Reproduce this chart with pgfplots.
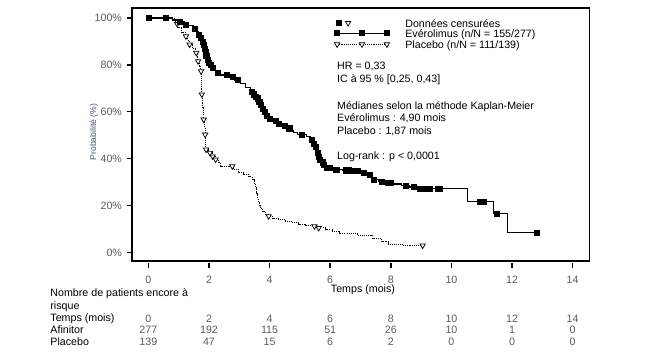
\documentclass[border=0pt]{standalone}
\usepackage{pgfplots}
\pgfplotsset{compat=1.18}
\usepackage{fontspec}
\setmainfont{Liberation Sans}
\definecolor{ylab}{RGB}{75,85,110}
\definecolor{tickgray}{RGB}{90,90,90}
\tikzset{tnum/.style={text=tickgray, inner sep=0pt}}
\begin{document}
\begin{tikzpicture}[font=\fontsize{8}{9.6}\selectfont]
\useasboundingbox (-99pt,-75pt) rectangle (395.25pt,195.75pt);
\begin{axis}[
  scale only axis, width=343pt, height=189.75pt,
  xmin=-0.54, xmax=14.55, ymin=-3.6, ymax=104.3,
  axis line style={line width=1.1pt},
  xtick={0,2,...,14}, ytick={0,20,...,100},
  tick pos=left,
  tick align=outside,
  major tick length=4pt,
  x tick style={line width=1.2pt, black, yshift=-1.3pt},
  y tick style={line width=0.9pt, black},
  xticklabel style={text=tickgray, yshift=-3.7pt},
  yticklabel style={text=tickgray},
  yticklabel={\pgfmathprintnumber{\tick}\%},
  /pgf/number format/assume math mode=true,
  clip=false,
]
% Placebo KM curve
\addplot[const plot, black, line width=0.75pt, dash pattern=on 0.8pt off 0.8pt] coordinates {
(0,100) (0.9,97.5) (0.97,95.8) (1.1,94) (1.24,92.2) (1.3,90.5) (1.35,88.7) (1.45,87)
(1.57,85.2) (1.62,81.6) (1.68,79.5) (1.73,77.3) (1.75,72) (1.76,67.4) (1.79,62) (1.82,56.7)
(1.85,53) (1.87,50.3) (1.89,47) (1.9,43.9) (2.0,42.5) (2.1,41) (2.2,39.7) (2.3,38.2)
(2.39,36.8) (2.8,35.5) (2.99,34) (3.15,33.3) (3.32,32.5) (3.43,31.1) (3.5,29.5) (3.54,27.6)
(3.57,25) (3.59,23.3) (3.62,21.5) (3.67,20) (3.7,19) (3.78,17.5) (3.87,16.2) (3.95,15.5)
(4.1,14.4) (4.3,14) (4.52,13.4) (4.74,12.7) (4.96,11.9) (5.2,11.5) (5.46,11.2) (5.6,10.5)
(5.85,9.8) (6.06,9.1) (6.3,8.0) (6.9,7.3) (7.4,6.0) (7.7,4.6) (7.92,3.6) (8.4,3.0) (9.05,3.0)
};
\addplot[only marks, black, mark=triangle*, mark size=2.3pt, mark options={fill=white, rotate=180, line width=0.55pt}] coordinates {
(0.95,97.5) (1.24,92.2) (1.36,88.7) (1.58,85.2) (1.64,81.6) (1.74,77.3) (1.765,67.4)
(1.825,56.7) (1.875,50.3) (1.905,43.9) (2.03,42.5) (2.12,41) (2.22,39.7) (2.77,36.8)
(3.97,15.5) (5.48,11.2) (5.62,10.5) (9.05,3.0)
};
% Everolimus KM curve
\addplot[const plot, black, line width=0.9pt] coordinates {
(0,100) (0.8,99.2) (1.0,98.3) (1.18,97.3) (1.3,96.8) (1.5,95.5) (1.57,94.4) (1.64,93)
(1.7,91.5) (1.76,90) (1.8,88.5) (1.84,87) (1.87,85.8) (1.9,84) (1.93,82.1) (1.98,81)
(2.04,80) (2.1,78.8) (2.14,77.8) (2.25,76.5) (2.37,75.7) (2.7,75) (2.85,73.5) (3.03,72.2)
(3.2,70.5) (3.36,68.6) (3.45,67.5) (3.52,66.5) (3.58,65.8) (3.63,64.3) (3.69,62.9) (3.74,61.5)
(3.79,60) (3.87,58.5) (3.96,57.2) (4.1,56.2) (4.24,55.1) (4.4,54) (4.57,53) (4.75,52)
(4.8,51.2) (4.92,50.2) (5.23,49.4) (5.35,48.2) (5.45,46.5) (5.5,45) (5.53,43.5) (5.56,42.5)
(5.6,41) (5.63,39.7) (5.7,38.5) (5.78,37.5) (5.85,36.1) (6.1,35.5) (6.4,35.1) (6.71,34.7)
(7.0,34) (7.2,33) (7.37,31.1) (7.6,30.3) (7.81,29.7) (8.1,29.2) (8.36,28.6) (8.6,28)
(8.9,27.4) (10.53,21.7) (11.38,16.7) (11.86,8.6) (12.81,8.6)
};
\addplot[only marks, black, mark=square*, mark size=1.9pt] coordinates {
(0,100) (0.58,100) (1.05,98.3) (1.22,97.3) (1.54,95.5) (1.66,93) (1.72,91.5) (1.78,90)
(1.82,88.5) (1.85,87) (1.88,85.8) (1.91,84) (1.95,82.1) (2.0,81) (2.07,80) (2.12,78.8)
(2.3,76.5) (2.6,75.7) (2.8,75) (2.95,73.5) (3.4,68.6) (3.48,67.5) (3.55,66.5) (3.6,65.8)
(3.66,64.3) (3.71,62.9) (3.76,61.5) (3.83,60) (3.9,58.5) (4.0,57.2) (4.2,56.2) (4.3,55.1)
(4.5,54) (4.65,53) (5.05,50.2) (5.4,48.2) (5.47,46.5) (5.52,45) (5.58,42.5) (5.62,41)
(5.66,39.7) (5.74,38.5) (5.8,37.5) (5.9,36.1) (5.98,36.1) (6.2,35.5) (6.5,35.1) (6.6,35.1)
(6.8,34.7) (6.9,34.7) (7.1,34) (7.3,33) (7.45,31.1) (7.7,30.3) (7.9,29.7) (8.0,29.7)
(8.5,28.6) (8.75,28) (8.95,27.4) (9.05,27.4) (9.15,27.4) (9.3,27.4) (9.55,27.4) (9.6,27.4)
(10.95,21.7) (11.05,21.7) (11.5,16.7) (12.81,8.6)
};
% legend samples
\addplot[only marks, black, mark=square*, mark size=1.9pt] coordinates {(6.29,97.9)};
\addplot[only marks, black, mark=triangle*, mark size=2.3pt, mark options={fill=white, rotate=180, line width=0.55pt}] coordinates {(6.59,97.9)};
\addplot[black, line width=0.9pt, mark=square*, mark size=1.9pt] coordinates {(6.23,93.5) (7.05,93.5) (7.87,93.5)};
\addplot[black, line width=0.75pt, dash pattern=on 0.8pt off 0.8pt, mark=triangle*, mark size=2.3pt, mark options={solid, fill=white, rotate=180, line width=0.55pt}] coordinates {(6.23,88.8) (7.05,88.8) (7.87,88.8)};
% texts
\node[anchor=west, inner sep=0pt] at (axis cs:8.47,97.8) {Données censurées};
\node[anchor=west, inner sep=0pt] at (axis cs:8.47,93.0) {Evérolimus (n/N = 155/277)};
\node[anchor=west, inner sep=0pt] at (axis cs:8.47,88.1) {Placebo (n/N = 111/139)};
\node[anchor=west, inner sep=0pt] at (axis cs:6.22,79.3) {HR = 0,33};
\node[anchor=west, inner sep=0pt] at (axis cs:6.22,73.8) {IC à 95 \% [0,25, 0,43]};
\node[anchor=west, inner sep=0pt] at (axis cs:6.22,62.3) {Médianes selon la méthode Kaplan-Meier};
\node[anchor=west, inner sep=0pt] at (axis cs:6.22,57.1) {Evérolimus : 4,90 mois};
\node[anchor=west, inner sep=0pt] at (axis cs:6.22,51.8) {Placebo : 1,87 mois};
\node[anchor=west, inner sep=0pt] at (axis cs:6.22,40.7) {Log-rank : p < 0,0001};
% axis labels
\node[rotate=90, text=ylab, font=\fontsize{6.5}{7.5}\selectfont] at (axis cs:-1.8,51.4) {Probabilité (\%)};
\node at (axis cs:7.08,-16.0) {Temps (mois)};
% number at risk table
\node[anchor=west, inner sep=0pt] at (axis cs:-3.24,-17.7) {Nombre de patients encore à};
\node[anchor=west, inner sep=0pt] at (axis cs:-3.24,-23.0) {risque};
\node[anchor=west, inner sep=0pt] at (axis cs:-3.24,-28.1) {Temps (mois)};
\node[anchor=west, inner sep=0pt] at (axis cs:-3.24,-33.0) {Afinitor};
\node[anchor=west, inner sep=0pt] at (axis cs:-3.24,-38.0) {Placebo};
\node[tnum] at (axis cs:0,-28.1) {0};
\node[tnum] at (axis cs:2,-28.1) {2};
\node[tnum] at (axis cs:4,-28.1) {4};
\node[tnum] at (axis cs:6,-28.1) {6};
\node[tnum] at (axis cs:8,-28.1) {8};
\node[tnum] at (axis cs:10,-28.1) {10};
\node[tnum] at (axis cs:12,-28.1) {12};
\node[tnum] at (axis cs:14,-28.1) {14};
\node[tnum] at (axis cs:0,-33.0) {277};
\node[tnum] at (axis cs:2,-33.0) {192};
\node[tnum] at (axis cs:4,-33.0) {115};
\node[tnum] at (axis cs:6,-33.0) {51};
\node[tnum] at (axis cs:8,-33.0) {26};
\node[tnum] at (axis cs:10,-33.0) {10};
\node[tnum] at (axis cs:12,-33.0) {1};
\node[tnum] at (axis cs:14,-33.0) {0};
\node[tnum] at (axis cs:0,-38.0) {139};
\node[tnum] at (axis cs:2,-38.0) {47};
\node[tnum] at (axis cs:4,-38.0) {15};
\node[tnum] at (axis cs:6,-38.0) {6};
\node[tnum] at (axis cs:8,-38.0) {2};
\node[tnum] at (axis cs:10,-38.0) {0};
\node[tnum] at (axis cs:12,-38.0) {0};
\node[tnum] at (axis cs:14,-38.0) {0};
\end{axis}
\end{tikzpicture}
\end{document}
